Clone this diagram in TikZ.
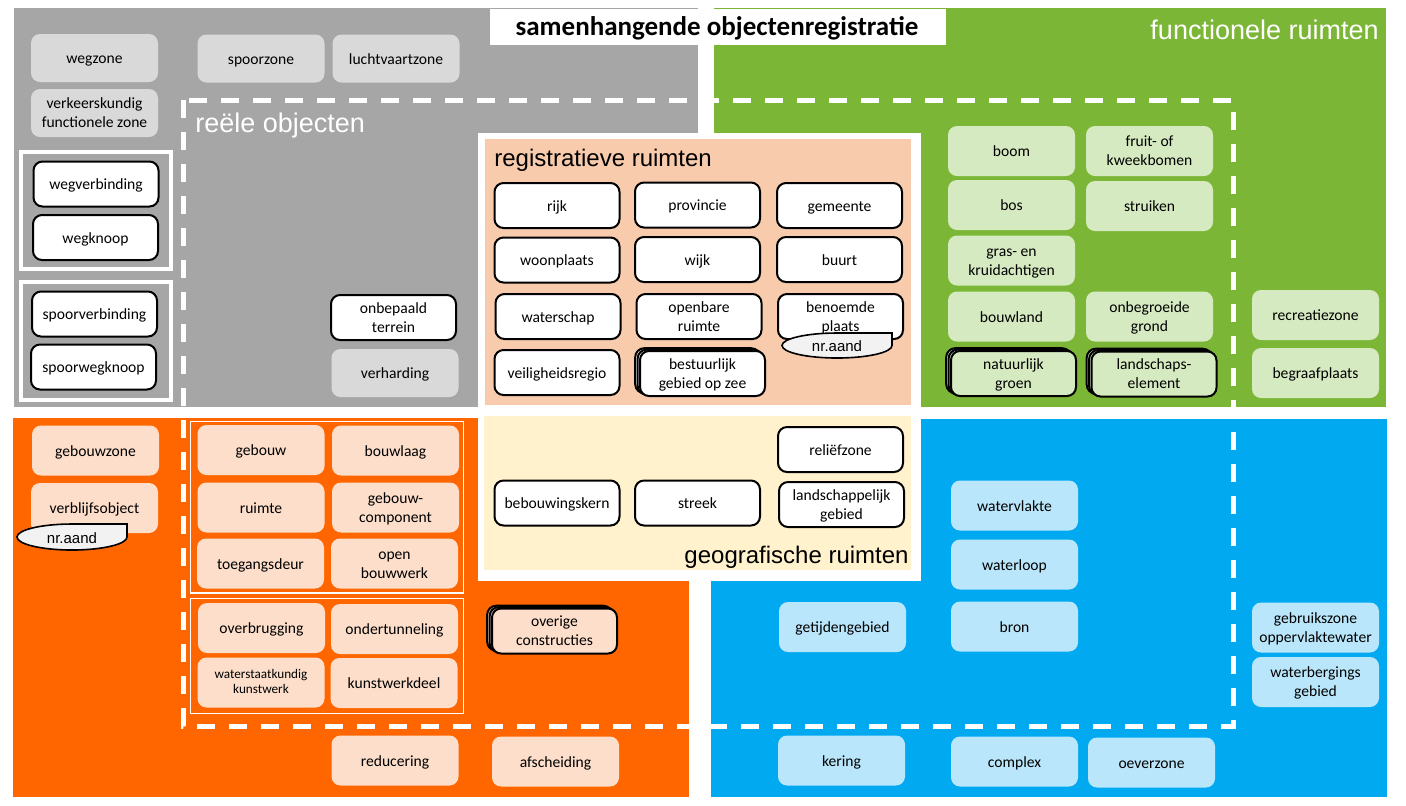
\documentclass[tikz,border=0pt]{standalone}
\usepackage{fontspec}
\setmainfont{Carlito}
\newfontfamily\arialfont{Liberation Sans}
\usetikzlibrary{shadows}
\definecolor{vlakgrijs}{HTML}{A6A6A6}
\definecolor{vlakgroen}{HTML}{7CB637}
\definecolor{vlakoranje}{HTML}{FF6600}
\definecolor{vlakblauw}{HTML}{00A9F0}
\definecolor{vlakperzik}{HTML}{F8CBAD}
\definecolor{vlakgeel}{HTML}{FFF2CC}
\definecolor{lichtgrijs}{HTML}{D9D9D9}
\definecolor{lichtgroen}{HTML}{D6EAC1}
\definecolor{lichtoranje}{HTML}{FCDECA}
\definecolor{lichtblauw}{HTML}{BAE6FB}
\definecolor{taggrijs}{HTML}{F2F2F2}
\tikzset{obj/.style={rectangle,rounded corners=4.5pt,align=center,inner xsep=1pt,inner ysep=0pt,minimum width=63.5pt,minimum height=25pt,font=\fontsize{7.8}{9.5}\selectfont,execute at begin node={\rule{0pt}{8.5pt}},execute at end node=\strut},twee/.style={execute at begin node={\rule{0pt}{17.4pt}}},grijsobj/.style={obj,fill=lichtgrijs,minimum height=24pt},witobj/.style={obj,fill=white,draw=black,line width=1pt,minimum width=62.5pt,minimum height=22.5pt},groenobj/.style={obj,fill=lichtgroen},oranjeobj/.style={obj,fill=lichtoranje},blauwobj/.style={obj,fill=lichtblauw},stapel/.style={obj,twee,fill=#1,draw=black,line width=1pt,minimum width=62.5pt,minimum height=22.5pt,double copy shadow={shadow xshift=-1.2pt,shadow yshift=0.7pt,fill=#1,draw=black,line width=1pt}},streep/.style={white,line width=2.5pt,dash pattern=on 9pt off 7pt},tag/.style={fill=taggrijs,draw=black,line width=0.8pt},tagtekst/.style={font=\arialfont\fontsize{7.5}{9}\selectfont,inner sep=0pt},kop/.style={font=\arialfont\fontsize{13.5}{16}\selectfont,inner sep=0pt},kleinkop/.style={font=\arialfont\fontsize{12}{14}\selectfont,inner sep=0pt}}

\begin{document}
\begin{tikzpicture}[x=0.5pt,y=-0.5pt]
\useasboundingbox (0,0) rectangle (1406,805);
\fill[white] (0,0) rectangle (1406,805);
\fill[vlakgrijs] (14,8) rectangle (698,407);
\fill[vlakgroen] (714,8) rectangle (1386,407);
\fill[vlakoranje] (13,418) rectangle (689,797);
\fill[vlakblauw] (711,419) rectangle (1387,797);
\draw[streep] (183,100) rectangle (1233,726);
\fill[white] (478,133) rectangle (921,581);
\fill[vlakperzik] (485,139) rectangle (911,405);
\fill[vlakgeel] (484,416) rectangle (911,570);
\fill[white] (490,9) rectangle (946,45);
\draw[white,line width=2pt] (21,152) rectangle (171,269) (21,282) rectangle (171,400);
\draw[white,line width=0.75pt] (190.5,421.5) rectangle (463.5,593) (190.5,598.5) rectangle (463.5,713.5);

\node[font=\bfseries\fontsize{13.5}{16}\selectfont,anchor=base,inner sep=0pt] (titel) at (717,35.5) {samenhangende objectenregistratie};
\node[kop,white,anchor=base east] (functioneel) at (1379,39) {functionele ruimten};
\node[kop,white,anchor=base west] (reeel) at (195,132) {reële objecten};
\node[kleinkop,anchor=base west] (registratief) at (494,166) {registratieve ruimten};
\node[kleinkop,anchor=base east] (geografisch) at (909,563) {geografische ruimten};

\node[grijsobj] (wegzone) at (94.5,58) {wegzone};
\node[grijsobj,twee] (vkzone) at (94.5,113) {verkeerskundig\\functionele zone};
\node[grijsobj] (spoorzone) at (261,58.5) {spoorzone};
\node[grijsobj] (luchtzone) at (396,58.5) {luchtvaartzone};
\node[witobj] (wegverbinding) at (96,184) {wegverbinding};
\node[witobj] (wegknoop) at (95.5,237.5) {wegknoop};
\node[witobj] (spoorverbinding) at (94.5,314) {spoorverbinding};
\node[witobj] (spoorwegknoop) at (93.5,367) {spoorwegknoop};
\node[witobj,twee] (onbepaald) at (393.5,317.5) {onbepaald\\terrein};
\node[grijsobj] (verharding) at (395,373) {verharding};

\node[witobj] (rijk) at (557,205.5) {rijk};
\node[witobj] (provincie) at (697.5,205) {provincie};
\node[witobj] (gemeente) at (839.5,205.5) {gemeente};
\node[witobj] (woonplaats) at (557,260) {woonplaats};
\node[witobj] (wijk) at (697.5,259.5) {wijk};
\node[witobj] (buurt) at (839.5,259.5) {buurt};
\node[witobj] (waterschap) at (558,316.5) {waterschap};
\node[witobj,twee] (openbaar) at (699,316.5) {openbare\\ruimte};
\node[witobj,twee] (benoemd) at (840.5,316.5) {benoemde\\plaats};
\node[witobj] (veiligheid) at (557,372.5) {veiligheidsregio};
\node[stapel=white] (bestuurlijk) at (702.5,373.5) {bestuurlijk\\gebied op zee};
\draw[tag] (892,333) -- (892,345.5) arc[start angle=0,end angle=-270,x radius=27.5pt,y radius=6.25pt] -- cycle;
\node[tagtekst] (nrbenoemd) at (837,346) {nr.aand};

\node[witobj] (relief) at (840.5,449.5) {reliëfzone};
\node[witobj] (bebouwingskern) at (557,503) {bebouwingskern};
\node[witobj] (streek) at (697.5,503) {streek};
\node[witobj,twee] (landschappelijk) at (841.5,504.5) {landschappelijk\\gebied};

\node[groenobj] (boom) at (1011.5,151) {boom};
\node[groenobj,twee] (fruit) at (1149.5,151) {fruit- of\\kweekbomen};
\node[groenobj] (bos) at (1011.5,205) {bos};
\node[groenobj] (struiken) at (1149.5,206) {struiken};
\node[groenobj,twee] (gras) at (1011.5,260.5) {gras- en\\kruidachtigen};
\node[groenobj] (bouwland) at (1011.5,316.5) {bouwland};
\node[groenobj,twee] (onbegroeid) at (1149.5,316.5) {onbegroeide\\grond};
\node[stapel=lichtgroen] (natuurlijk) at (1013.5,373.5) {natuurlijk\\groen};
\node[stapel=lichtgroen] (landschapselement) at (1154,374) {landschaps-\\element};
\node[groenobj] (recreatie) at (1315.5,315) {recreatiezone};
\node[groenobj] (begraafplaats) at (1315.5,373) {begraafplaats};

\node[oranjeobj] (gebouwzone) at (95.5,450.5) {gebouwzone};
\node[oranjeobj] (verblijf) at (94.5,508) {verblijfsobject};
\draw[tag] (127,524) -- (127,537) arc[start angle=0,end angle=-270,x radius=27.5pt,y radius=6.5pt] -- cycle;
\node[tagtekst] (nrverblijf) at (72,538) {nr.aand};
\node[oranjeobj] (gebouw) at (261,450) {gebouw};
\node[oranjeobj] (bouwlaag) at (395.5,450.5) {bouwlaag};
\node[oranjeobj] (ruimte) at (261,507.5) {ruimte};
\node[oranjeobj,twee] (component) at (395.5,507.5) {gebouw-\\component};
\node[oranjeobj] (toegang) at (260.5,563.5) {toegangsdeur};
\node[oranjeobj,twee] (bouwwerk) at (394.5,563.5) {open\\bouwwerk};
\node[oranjeobj] (overbrugging) at (261.5,628) {overbrugging};
\node[oranjeobj] (ondertunneling) at (394.5,629) {ondertunneling};
\node[oranjeobj,font=\fontsize{6.6}{7.8}\selectfont,execute at begin node={\rule{0pt}{13.8pt}}] (kunstwerk) at (261,682.5) {waterstaatkundig\\kunstwerk};
\node[oranjeobj] (kunstwerkdeel) at (394,683) {kunstwerkdeel};
\node[oranjeobj] (reducering) at (395,760.5) {reducering};
\node[stapel=lichtoranje] (overig) at (554.5,631) {overige\\constructies};
\node[oranjeobj] (afscheiding) at (555.5,761.5) {afscheiding};

\node[blauwobj] (watervlakte) at (1014.5,505.5) {watervlakte};
\node[blauwobj] (waterloop) at (1014.5,564.5) {waterloop};
\node[blauwobj] (bron) at (1014.5,626.5) {bron};
\node[blauwobj] (getijden) at (842.5,627) {getijdengebied};
\node[blauwobj,twee] (gebruikszone) at (1315.5,627.5) {gebruikszone\\oppervlaktewater};
\node[blauwobj,twee] (waterberging) at (1315.5,682) {waterbergings\\gebied};
\node[blauwobj] (kering) at (841.5,760.5) {kering};
\node[blauwobj] (complex) at (1014.5,761.5) {complex};
\node[blauwobj] (oeverzone) at (1151.5,762.5) {oeverzone};
\end{tikzpicture}
\end{document}
